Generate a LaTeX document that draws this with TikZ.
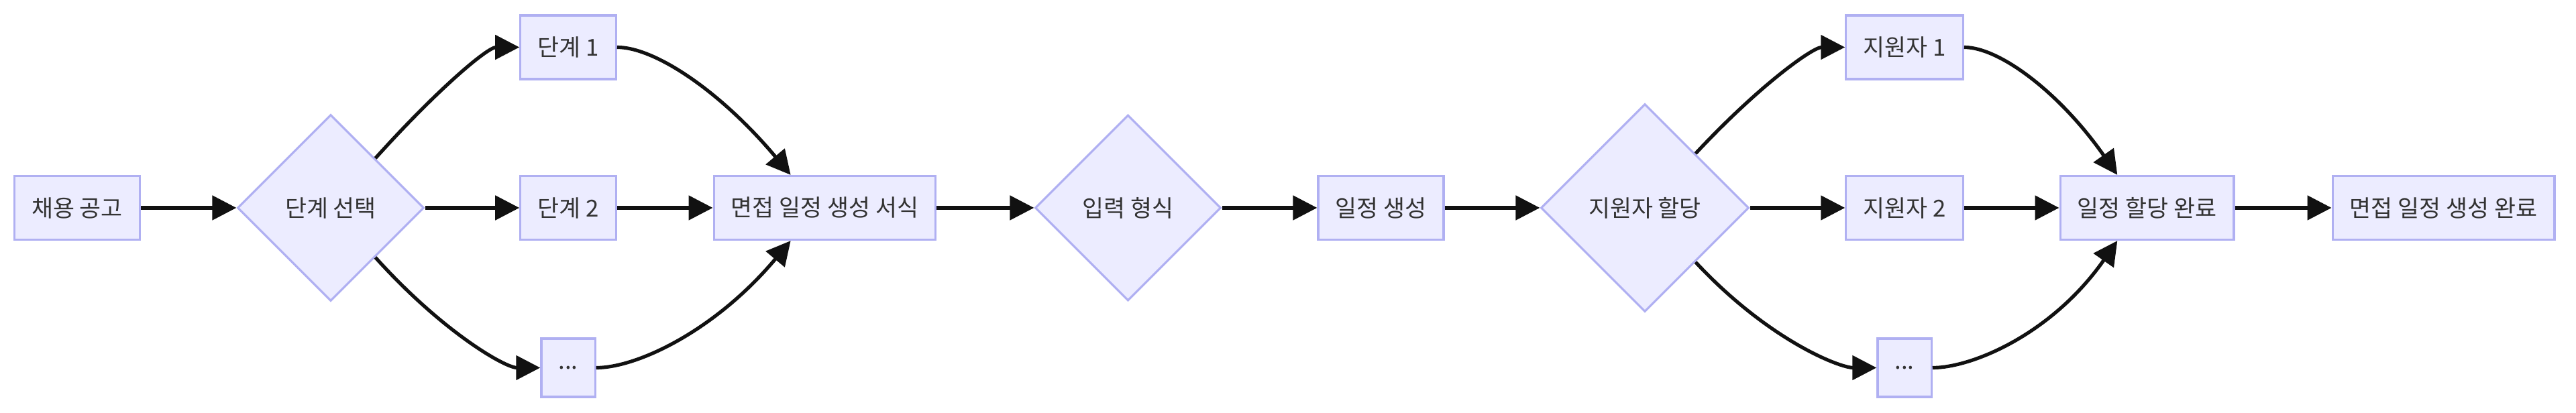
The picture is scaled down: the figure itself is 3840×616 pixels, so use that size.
\documentclass[tikz,border=0pt]{standalone}
\usepackage{fontspec}
\setmainfont{Noto Sans CJK KR}
\usepackage{tikz}
\usetikzlibrary{arrows.meta,shapes.geometric,calc}

\definecolor{nodefill}{HTML}{ECECFF}
\definecolor{nodeline}{HTML}{B0B0F2}
\definecolor{nodetext}{HTML}{333333}
\definecolor{edgeline}{HTML}{111111}

\tikzset{
  box/.style={draw=nodeline, fill=nodefill, line width=0.8pt, text=nodetext,
              inner xsep=6.4pt, minimum height=23.75pt,
              font=\fontsize{8.7pt}{10.5pt}\selectfont},
  choice/.style={box, diamond, aspect=1, inner sep=0pt, minimum size=#1},
  fanout/.style={out=#1, in=180, out looseness=1.3, in looseness=0.45},
  fanin/.style={out=0, in=#1, out looseness=0.45, in looseness=1.3}
}

\begin{document}
\begin{tikzpicture}[x=0.25pt,y=-0.25pt,->,>={Triangle[length=9pt,width=9pt]},
                    line width=1.3pt,every edge/.style={draw=edgeline}]

  \useasboundingbox (0,0) rectangle (3840,616);

  \node[box] (post) at (115,310) {채용 공고};
  \node[choice=69.5pt] (stage) at (493,310) {단계 선택};
  \node[box] (stage1) at (847,70.5) {단계 1};
  \node[box] (stage2) at (847,310) {단계 2};
  \node[box, minimum height=21.75pt] (stagen) at (847,548.5) {...};
  \node[box] (form) at (1229.5,310) {면접 일정 생성 서식};
  \node[choice=69.25pt] (input) at (1681.5,310) {입력 형식};
  \node[box] (make) at (2058.5,310) {일정 생성};
  \node[choice=77.5pt] (assign) at (2452,310) {지원자 할당};
  \node[box] (cand1) at (2839,70.5) {지원자 1};
  \node[box] (cand2) at (2839,310) {지원자 2};
  \node[box, minimum height=21.75pt] (candn) at (2839,548.5) {...};
  \node[box] (done) at (3200.5,310) {일정 할당 완료};
  \node[box] (finish) at (3642.5,310) {면접 일정 생성 완료};

  \path (post)   edge (stage)
        (stage)  edge[fanout=48] (stage1)
                 edge (stage2)
                 edge[fanout=-48] (stagen)
        (stage1) edge[fanin=130] (form.136)
        (stage2) edge (form)
        (stagen) edge[fanin=230] (form.224)
        (form)   edge (input)
        (input)  edge (make)
        (make)   edge (assign)
        (assign) edge[fanout=47] (cand1)
                 edge (cand2)
                 edge[fanout=-47] (candn)
        (cand1)  edge[fanin=125] (done.132)
        (cand2)  edge (done)
        (candn)  edge[fanin=235] (done.228)
        (done)   edge (finish);
\end{tikzpicture}
\end{document}
